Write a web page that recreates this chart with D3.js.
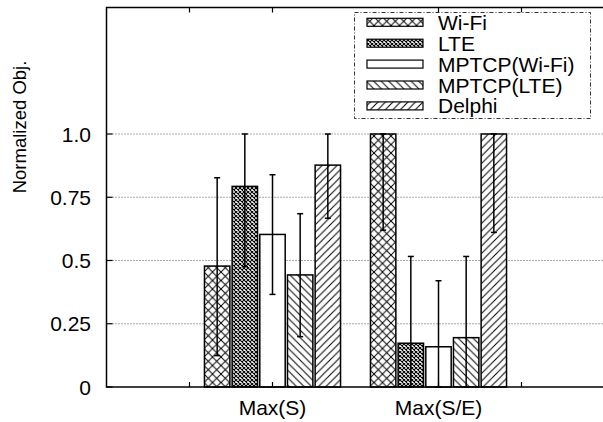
<!DOCTYPE html>
<html>
<head>
<meta charset="utf-8">
<script src="https://cdn.jsdelivr.net/npm/d3@7"></script>
<style>
  body { margin: 0; background: #fff; }
  text { font-family: "Liberation Sans", Arial, sans-serif; fill: #000; }
</style>
</head>
<body>
<svg width="603" height="422"></svg>
<script>
// categories and series
var categories = ["Max(S)", "Max(S/E)"];
var seriesNames = ["Wi-Fi", "LTE", "MPTCP(Wi-Fi)", "MPTCP(LTE)", "Delphi"];

// bar heights, one value per category
var wifi     = [0.478, 1.0];
var lte      = [0.793, 0.173];
var mpWifi   = [0.603, 0.159];
var mpLte    = [0.443, 0.195];
var delphi   = [0.877, 1.0];

// error bar ends (low / high)
var wifiErr   = [[0.124, 0.827], [0.62, 1.0]];
var lteErr    = [[0.476, 1.0], [0.0, 0.516]];
var mpWifiErr = [[0.366, 0.839], [0.0, 0.42]];
var mpLteErr  = [[0.199, 0.685], [0.0, 0.516]];
var delphiErr = [[0.667, 1.0], [0.611, 1.0]];

var yTicks = [0, 0.25, 0.5, 0.75, 1.0];
var yTickLabels = ["0", "0.25", "0.5", "0.75", "1.0"];
var xTicks = [-0.5, 0, 1, 1.5];

var values = [wifi, lte, mpWifi, mpLte, delphi];
var errors = [wifiErr, lteErr, mpWifiErr, mpLteErr, delphiErr];
var fills = ["url(#p-cross)", "url(#p-dense)", "#fff", "url(#p-back)", "url(#p-fwd)"];

var svg = d3.select("svg");

var x = d3.scaleLinear().domain([-1, 2]).range([106.5, 604.5]);
var y = d3.scaleLinear().domain([0, 1.5]).range([387, 7.5]);

var slot = 1 / 6, barW = 0.153;

// patterns
var defs = svg.append("defs");
function pat(id, s, d, sw) {
  var p = defs.append("pattern").attr("id", id)
    .attr("patternUnits", "userSpaceOnUse")
    .attr("width", s).attr("height", s);
  p.append("rect").attr("width", s).attr("height", s).attr("fill", "#fff");
  p.append("path").attr("d", d).attr("stroke", "#000")
    .attr("stroke-width", sw).attr("fill", "none");
}
var c = 8.5;
pat("p-cross", c, "M0,0L" + c + "," + c + "M0," + c + "L" + c + ",0", 1);
pat("p-dense", 4, "M0,0L4,4M0,4L4,0", 1.1);
var s = 7.5;
pat("p-fwd", s, "M0," + s + "l" + s + "," + (-s) + "M-1,1l2,-2M" + (s - 1) + "," + (s + 1) + "l2,-2", 1);
pat("p-back", s, "M0,0l" + s + "," + s + "M-1," + (s - 1) + "l2,2M" + (s - 1) + ",-1l2,2", 1);

// grid
var grid = svg.append("g");
grid.selectAll("line").data(yTicks.slice(1)).enter().append("line")
  .attr("x1", x(-1) + 6).attr("x2", x(2))
  .attr("y1", function (d) { return y(d); })
  .attr("y2", function (d) { return y(d); })
  .attr("stroke", "#555").attr("stroke-width", 1)
  .attr("stroke-dasharray", "1,2");

// bars
var g = svg.append("g");
seriesNames.forEach(function (name, i) {
  var off = (i - 2) * slot;
  g.selectAll(".bar" + i).data(values[i]).enter().append("rect")
    .attr("x", function (d, j) { return x(j + off - barW / 2); })
    .attr("width", x(barW) - x(0))
    .attr("y", function (d) { return y(d); })
    .attr("height", function (d) { return y(0) - y(d); })
    .attr("fill", fills[i])
    .attr("stroke", "#000").attr("stroke-width", 1.5);
});

// error bars
seriesNames.forEach(function (name, i) {
  var off = (i - 2) * slot;
  errors[i].forEach(function (e, j) {
    var cx = x(j + off);
    g.append("line").attr("x1", cx).attr("x2", cx)
      .attr("y1", y(e[0])).attr("y2", y(e[1]))
      .attr("stroke", "#000").attr("stroke-width", 1.5);
    [e[0], e[1]].forEach(function (v) {
      g.append("line").attr("x1", cx - 3).attr("x2", cx + 3)
        .attr("y1", y(v)).attr("y2", y(v))
        .attr("stroke", "#000").attr("stroke-width", 1.5);
    });
  });
});

// frame
svg.append("rect")
  .attr("x", x(-1)).attr("y", y(1.5))
  .attr("width", x(2) - x(-1)).attr("height", y(0) - y(1.5))
  .attr("fill", "none").attr("stroke", "#000").attr("stroke-width", 1.5);

// y ticks
svg.selectAll(".ytick").data(yTicks).enter().append("line")
  .attr("x1", x(-1)).attr("x2", x(-1) + 6)
  .attr("y1", function (d) { return y(d); })
  .attr("y2", function (d) { return y(d); })
  .attr("stroke", "#000").attr("stroke-width", 1.2);
svg.selectAll(".ylab").data(yTicks).enter().append("text")
  .attr("x", 91).attr("y", function (d) { return y(d); })
  .attr("dy", "0.36em").attr("text-anchor", "end")
  .style("font-size", "21px")
  .text(function (d, i) { return yTickLabels[i]; });

// x ticks, top and bottom
xTicks.forEach(function (t) {
  svg.append("line").attr("x1", x(t)).attr("x2", x(t))
    .attr("y1", y(0)).attr("y2", y(0) - 5)
    .attr("stroke", "#000").attr("stroke-width", 1.2);
  svg.append("line").attr("x1", x(t)).attr("x2", x(t))
    .attr("y1", y(1.5)).attr("y2", y(1.5) + 5)
    .attr("stroke", "#000").attr("stroke-width", 1.2);
});
svg.selectAll(".xlab").data(categories).enter().append("text")
  .attr("x", function (d, i) { return x(i); })
  .attr("y", 415).attr("text-anchor", "middle")
  .style("font-size", "21px")
  .text(function (d) { return d; });

// y label
svg.append("text")
  .attr("transform", "translate(26,127)rotate(-90)")
  .attr("text-anchor", "middle")
  .style("font-size", "18.5px")
  .text("Normalized Obj.");

// legend
var lg = svg.append("g");
lg.append("rect").attr("x", 354.5).attr("y", 12.5)
  .attr("width", 236).attr("height", 106)
  .attr("fill", "#fff").attr("stroke", "#333").attr("stroke-width", 1)
  .attr("stroke-dasharray", "4,2,1,2");
seriesNames.forEach(function (name, i) {
  var cy = 22.3 + i * 20.9;
  lg.append("rect").attr("x", 367).attr("y", cy - 4)
    .attr("width", 56).attr("height", 8)
    .attr("fill", fills[i]).attr("stroke", "#000").attr("stroke-width", 1.2);
  lg.append("text").attr("x", 438).attr("y", cy).attr("dy", "0.36em")
    .style("font-size", "21px").text(name);
});
</script>
</body>
</html>
